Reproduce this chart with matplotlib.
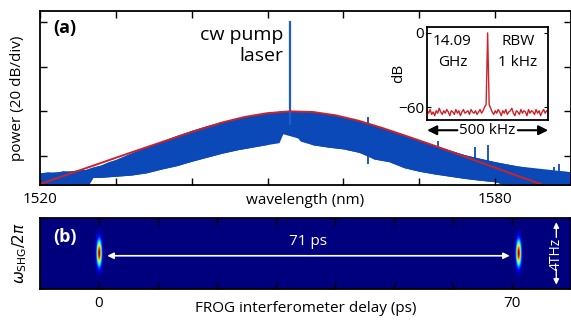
import numpy as np
import matplotlib
matplotlib.use("Agg")
import matplotlib.pyplot as plt

plt.rcParams["font.family"] = ["Open Sans", "DejaVu Sans"]
plt.rcParams["mathtext.fontset"] = "dejavusans"

# =====================================
# Data
# =====================================

# (a) spectrum, wavelength in nm, power in dB
env_wl = [1520, 1524, 1528, 1532, 1536, 1540, 1544, 1547, 1550, 1553, 1556,
          1559, 1562, 1565, 1568, 1571, 1574, 1577, 1580, 1583, 1586, 1590]
env_db = [-72.5, -67.8, -63.1, -58.4, -53.8, -49.2, -45.0, -42.5, -40.8, -40.0,
          -40.3, -41.8, -44.2, -47.3, -50.7, -54.2, -57.8, -61.5, -65.2, -68.9,
          -72.5, -77.5]

top_wl = [1520, 1521, 1522, 1523, 1524, 1525, 1526, 1527, 1528, 1529, 1530,
          1532, 1534, 1536, 1538, 1540, 1542, 1544, 1546, 1548, 1550, 1552,
          1554, 1556, 1558, 1560, 1562, 1564, 1566, 1568, 1570, 1572, 1574,
          1576, 1578, 1580, 1582, 1584, 1586, 1588, 1590]
top_db = [-67.5, -67.0, -67.5, -66.5, -67.0, -66.0, -66.0, -64.8, -64.0, -62.5,
          -61.5, -58.6, -56.0, -53.4, -50.8, -48.5, -46.4, -44.6, -43.0, -41.6,
          -40.5, -39.8, -39.8, -40.1, -41.0, -42.5, -44.2, -46.2, -48.4, -50.6,
          -52.8, -55.1, -57.3, -59.4, -61.0, -62.5, -63.8, -65.0, -66.0, -66.5,
          -67.0]

low_wl = [1520, 1526, 1526.3, 1528, 1530, 1532, 1534, 1536, 1538, 1540, 1542,
          1544, 1546, 1548, 1550, 1551.5, 1552, 1552.6, 1553.2, 1553.8, 1554.3,
          1556, 1558, 1560, 1562, 1563.1, 1564, 1566, 1568, 1570, 1572, 1574,
          1576, 1578, 1580, 1582, 1583, 1590]
low_db = [-75, -75, -69.5, -69.5, -69.0, -68.5, -67.5, -65.8, -64.3, -62.3,
          -60.5, -58.7, -57.2, -56.0, -54.8, -54.0, -50.0, -43.0, -44.0, -51.0,
          -53.3, -55.0, -56.0, -56.8, -58.3, -59.2, -61.3, -62.5, -65.2, -66.8,
          -68.0, -69.0, -70.0, -70.8, -71.5, -73.5, -75, -75]

pump_wl = 1552.9
pump_db = 0.5
side_wl = [1563.2, 1572.4, 1577.4, 1579.1, 1587.8, 1588.4]
side_lo = [-63.6, -62.0, -64.0, -63.5, -68.0, -67.0]
side_hi = [-42.7, -53.3, -56.0, -55.0, -65.0, -63.6]

# inset: RF beat note, offset in kHz, level in dB
rf_khz = np.linspace(-250, 250, 81)
rf_db = [-63, -65, -62, -66, -64, -67, -63, -65, -61, -64, -66, -63, -65, -62,
         -64, -67, -63, -64, -66, -62, -65, -63, -67, -64, -62, -65, -64, -63,
         -66, -62, -64, -65, -63, -66, -64, -62, -65, -63, -60, -58, 0, -58,
         -61, -64, -66, -63, -65, -62, -64, -67, -63, -65, -62, -66, -64, -63,
         -61, -65, -67, -63, -64, -66, -62, -65, -63, -64, -67, -62, -65, -63,
         -64, -66, -62, -65, -63, -67, -64, -62, -65, -63, -64]

# (b) FROG trace: two pulse replicas, delay in ps, SHG frequency in THz
spot_delay = [0, 71]
spot_width_ps = 0.28
spot_width_thz = 0.55

blue = "#0b49b8"
red = "#cc2229"

fig = plt.figure(figsize=(5.71, 3.2), dpi=100)

# =====================================
# (a) optical spectrum
# =====================================

ax = fig.add_axes([0.0701, 0.422, 0.93, 0.544])

ax.fill_between(top_wl, np.interp(top_wl, low_wl, low_db), top_db,
                color=blue, lw=0)
ax.fill_between(low_wl, low_db, np.interp(low_wl, top_wl, top_db),
                color=blue, lw=0)
ax.vlines(side_wl, side_lo, side_hi, color=blue, lw=1.3)
ax.vlines(pump_wl, -46, pump_db, color="#1d5cd0", lw=1.6)
ax.plot(env_wl, env_db, color=red, lw=1.4)

ax.set_xlim(1520, 1590)
ax.set_ylim(-72.9, 4.9)
ax.set_xticks(np.arange(1520, 1591, 10))
ax.set_xticklabels(["1520", "", "", "", "", "", "1580", ""])
ax.set_yticks([0, -20, -40, -60])
ax.set_yticklabels([])
ax.tick_params(direction="in", top=True, right=True, length=5, width=1,
               labelsize=11, pad=5)
for s in ax.spines.values():
    s.set_linewidth(1.3)

ax.set_xlabel("wavelength (nm)", fontsize=11)
ax.xaxis.set_label_coords(0.5, -0.045)
ax.xaxis.label.set_va("top")
ax.set_ylabel("power (20 dB/div)", fontsize=11, labelpad=6)

ax.text(0.025, 0.955, "(a)", transform=ax.transAxes, fontsize=13,
        fontweight="bold", va="top", ha="left")
ax.text(0.458, 0.915, "cw pump\nlaser", transform=ax.transAxes, fontsize=14,
        va="top", ha="right", linespacing=1.25)

# inset
axi = fig.add_axes([0.748, 0.625, 0.212, 0.291])
axi.plot(rf_khz, rf_db, color=red, lw=1.0)
axi.set_xlim(-250, 250)
axi.set_ylim(-70.5, 4.9)
axi.set_xticks([])
axi.set_yticks([0, -60])
axi.set_yticklabels(["0", "\u221260"])
axi.tick_params(direction="in", right=True, length=3, labelsize=11, pad=2)
for s in axi.spines.values():
    s.set_linewidth(1.3)
axi.set_ylabel("dB", fontsize=11, labelpad=-6)
axi.text(0.21, 0.73, "14.09\nGHz", transform=axi.transAxes, fontsize=11,
         ha="center", va="center", linespacing=1.6)
axi.text(0.75, 0.73, "RBW\n1 kHz", transform=axi.transAxes, fontsize=11,
         ha="center", va="center", linespacing=1.6)
axi.text(0.5, -0.11, "500 kHz", transform=axi.transAxes, fontsize=11,
         ha="center", va="center")
for x0, x1 in [(0.25, 0.0), (0.75, 1.0)]:
    axi.annotate("", xy=(x1, -0.11), xytext=(x0, -0.11),
                 xycoords="axes fraction",
                 arrowprops=dict(arrowstyle="-|>", color="k", lw=1.5,
                                 mutation_scale=14, shrinkA=0, shrinkB=0))

# =====================================
# (b) FROG trace
# =====================================

axb = fig.add_axes([0.0701, 0.0969, 0.93, 0.222])

t = np.linspace(-10, 80, 1801)
f = np.linspace(-2.33, 2.33, 141)
T, F = np.meshgrid(t, f)
trace = np.zeros_like(T)
for d in spot_delay:
    trace += np.exp(-0.5 * ((T - d) / spot_width_ps) ** 2
                    - 0.5 * (F / spot_width_thz) ** 2)

axb.imshow(trace, cmap="jet", vmin=0, vmax=1, aspect="auto", origin="lower",
           extent=[-10, 80, -2.33, 2.33], interpolation="bilinear")

axb.set_xlim(-10, 80)
axb.set_ylim(-2.33, 2.33)
axb.set_xticks(np.arange(0, 71, 10))
axb.set_xticklabels(["0", "", "", "", "", "", "", "70"])
axb.set_yticks([])
axb.tick_params(direction="in", top=True, length=5, width=1, labelsize=11,
                pad=5)
for s in axb.spines.values():
    s.set_linewidth(1.3)
axb.set_xlabel("FROG interferometer delay (ps)", fontsize=11, labelpad=-7)
axb.set_ylabel(r"$\omega_{\rm SHG}/2\pi$", fontsize=11, labelpad=8)

axb.annotate("", xy=(1.4, -0.15), xytext=(69.6, -0.15),
             arrowprops=dict(arrowstyle="<|-|>", color="white", lw=1.2,
                             mutation_scale=9, shrinkA=0, shrinkB=0))
axb.text(35.5, 0.78, "71 ps", color="white", fontsize=11, ha="center",
         va="center")
axb.text(0.025, 0.86, "(b)", transform=axb.transAxes, fontsize=13,
         fontweight="bold", color="white", va="top", ha="left")

axb.text(77.5, 0, "4THz", color="white", fontsize=10, rotation=90,
         ha="center", va="center")
for y0, y1 in [(1.05, 2.05), (-1.05, -2.05)]:
    axb.annotate("", xy=(77.5, y1), xytext=(77.5, y0),
                 arrowprops=dict(arrowstyle="-|>", color="white", lw=1.0,
                                 mutation_scale=8, shrinkA=0, shrinkB=0))

plt.savefig("out.png", dpi=100)
